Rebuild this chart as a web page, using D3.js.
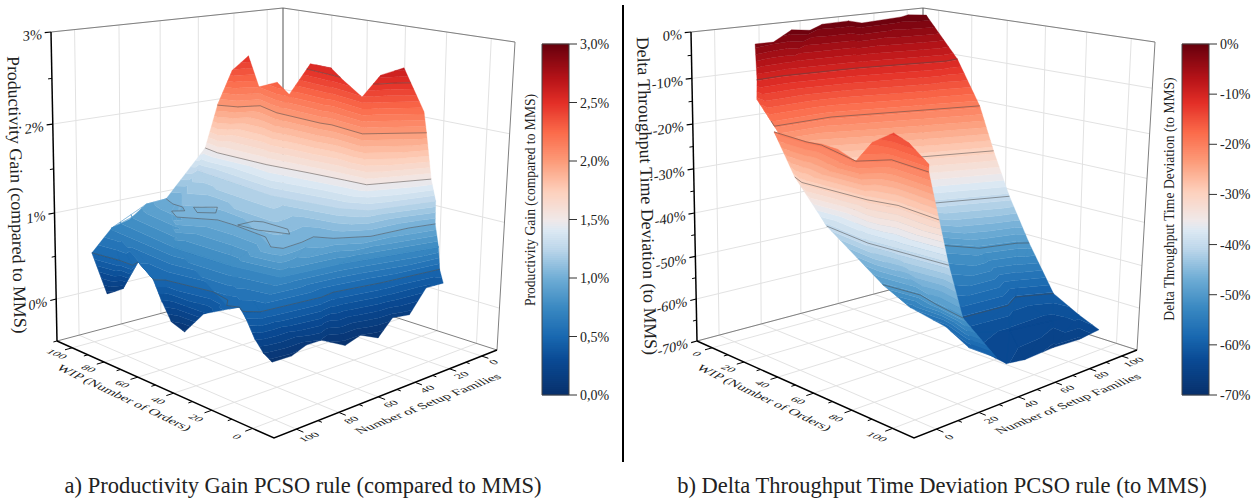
<!DOCTYPE html>
<html><head><meta charset="utf-8">
<script src="https://cdn.jsdelivr.net/npm/d3@7"></script>
<style>body{margin:0;background:#fff}svg{display:block}text{font-family:"Liberation Serif",serif;fill:#222}</style>
</head><body><script>
const wipTicks=[0,20,40,60,80,100], famTicks=[0,20,40,60,80,100];
const gainTicks=[0,1,2,3], gainMinor=[-.5,.5,1.5,2.5], gainBarTicks=[0,.5,1,1.5,2,2.5,3];
const delayTicks=[-70,-60,-50,-40,-30,-20,-10,0], delayMinor=[-65,-55,-45,-35,-25,-15,-5];
const gainContours=[.5,1,1.5,2,2.5], delayContours=[-60,-50,-40,-30,-20,-10];
const colorStops=[0,.1,.167,.25,.333,.417,.47,.5,.58,.667,.75,.833,.9,1];
const colorVals=["#08306b","#0a4a94","#1968b0","#3a89c2","#6fadd5","#bcd6ea","#dce8f3","#f0e8e8","#fdd0bb","#fc9a78","#fb6a4a","#e32f27","#b81419","#67000d"];

/* Panel a: productivity gain, rows of (WIP, families, gain %) read along the surface */
const a0Wip=[100,103,105,93,79,68,65,52,43,29,27,24,14];
const a0Fam=[38,27,16,21,24,26,19,21,24,29,21,11,11];
const a0Z=[2,2.37,2.5,2.19,2.31,2.18,2.56,2.57,2.48,2.37,2.59,2.65,2.21];
const a1Wip=[100,92,88,73,48,43,25,11];
const a1Fam=[38,34,25,30,31,30,33,13];
const a1Z=[2,2,2,2,2,2,2,2];
const a2Wip=[102,92,64,44,28,18,8];
const a2Fam=[43,45,44,41,39,38,13];
const a2Z=[1.5,1.5,1.5,1.5,1.5,1.5,1.5];
const a3Wip=[100,97,102,53,24,15,7];
const a3Fam=[65,59,47,52,46,40,11];
const a3Z=[1,1.07,1.25,1.25,1.25,1.25,1.25];
const a4Wip=[105,109,100,92,86,81,84,76,63,54,35,25,21,22,24,18,11,9,6];
const a4Fam=[79,68,65,68,68,71,75,79,70,70,72,79,77,67,59,55,43,24,12];
const a4Z=[.8,.9,1,1,1,1,1,1,1,1,1,1,1,1,1,1,1,1,1];
const a5Wip=[109,67,38,17,14,4];
const a5Fam=[85,87,86,82,56,12];
const a5Z=[.7,.75,.75,.75,.75,.75];
const a6Wip=[105,90,82,84,63,60,39,29,25,21,17,13,10,11,7,3];
const a6Fam=[97,95,95,91,100,97,93,95,99,97,99,95,69,62,42,12];
const a6Z=[.5,.5,.5,.5,.5,.5,.5,.5,.5,.5,.5,.5,.5,.5,.5,.5];
const a7Wip=[105,94,91,84,65,57,52,46,38,24,21,15,11,8,6,5,6,4,5,1,2,-1,1,-1,2,-2];
const a7Fam=[97,98,93,91,99,101,101,100,98,99,97,99,99,98,96,88,80,75,71,66,57,51,41,34,21,16];
const a7Z=[.5,.1,.15,.5,.5,.3,.12,.05,.3,.47,.5,.42,.25,.12,.03,.04,.09,.12,.07,.02,.06,.01,.15,.15,.35,.4];
const aIsland0Wip=[83,77,71,76,83], aIsland0Fam=[65,58,64,69,65];
const aIsland1Wip=[53,53,50,37,32,37,43,53], aIsland1Fam=[69,61,59,59,63,65,68,69];

/* Panel b: throughput time deviation, main sheet */
const m0Wip=[9,5,3,8,-2,-1,5,3,1,5];
const m0Fam=[5,16,26,31,45,58,60,84,90,97];
const m0Z=[-2,-2.5,-.5,-.5,-.5,-.3,-.5,-.3,-.2,-.3];
const m1Wip=[7,6,10,20,19], m1Fam=[7,19,53,94,102], m1Z=[-10,-10,-10,-10,-10];
const m2Wip=[1,12,12,25,33], m2Fam=[11,11,38,77,101], m2Z=[-15,-20,-20,-20,-20];
const m3Wip=[10,30,41], m3Fam=[24,70,101], m3Z=[-30,-30,-30];
const m4Wip=[24,38,50], m4Fam=[37,70,101], m4Z=[-40,-40,-40];
const m5Wip=[27,38,53,58,61], m5Fam=[45,70,80,97,101], m5Z=[-50,-50,-50,-50,-50];
const m6Wip=[72,74,69,76], m6Fam=[50,74,84,99], m6Z=[-60,-60,-60,-60];
const m7Wip=[79,84,86,93], m7Fam=[47,64,87,94], m7Z=[-62,-63,-63.5,-62];
const m8Wip=[85,97,103,102,98,99,106], m8Fam=[42,42,41,52,73,87,90], m8Z=[-63,-64,-64,-65,-66,-66,-63];
/* Panel b: low-family flank in front of the main sheet */
const l0Wip=[20,39,46,56,72,71,81,89,99], l0Fam=[5,4,6,5,-1,7,7,6,5], l0Z=[-20,-20,-20,-20,-20,-17,-14,-15,-18];
const l1Wip=[20,40,47,72,78,97], l1Fam=[5,4,5,-1,9,7], l1Z=[-20,-20,-20,-20,-20,-20];
const l2Wip=[24,32,65,77,98], l2Fam=[11,8,10,13,11], l2Z=[-30,-30,-30,-30,-30];
const l3Wip=[36,62,74,98], l3Fam=[16,13,14,16], l3Z=[-40,-40,-40,-40];
const l4Wip=[62,79,90,105], l4Fam=[20,22,19,16], l4Z=[-50,-50,-50,-50];
const l5Wip=[62,69,82,96,109], l5Fam=[20,27,32,29,29], l5Z=[-50,-55,-58,-59.8,-59.8];

const row=(w,f,z)=>w.map((v,i)=>({w:v,f:f[i],z:z[i]}));
const aRows=[row(a0Wip,a0Fam,a0Z),row(a1Wip,a1Fam,a1Z),row(a2Wip,a2Fam,a2Z),row(a3Wip,a3Fam,a3Z),row(a4Wip,a4Fam,a4Z),row(a5Wip,a5Fam,a5Z),row(a6Wip,a6Fam,a6Z),row(a7Wip,a7Fam,a7Z)];
const bMain=[row(m0Wip,m0Fam,m0Z),row(m1Wip,m1Fam,m1Z),row(m2Wip,m2Fam,m2Z),row(m3Wip,m3Fam,m3Z),row(m4Wip,m4Fam,m4Z),row(m5Wip,m5Fam,m5Z),row(m6Wip,m6Fam,m6Z),row(m7Wip,m7Fam,m7Z),row(m8Wip,m8Fam,m8Z)];
const bLeft=[row(l0Wip,l0Fam,l0Z),row(l1Wip,l1Fam,l1Z),row(l2Wip,l2Fam,l2Z),row(l3Wip,l3Fam,l3Z),row(l4Wip,l4Fam,l4Z),row(l5Wip,l5Fam,l5Z)];
const aLoops=[aIsland0Wip.map((w,i)=>({w,f:aIsland0Fam[i],z:1})),aIsland1Wip.map((w,i)=>({w,f:aIsland1Fam[i],z:1}))];

const cs=d3.scaleLinear().domain(colorStops).range(colorVals).interpolate(d3.interpolateRgb);
const svg=d3.select("body").append("svg").attr("width",1256).attr("height",501);

function homog(q){const [[x0,y0],[x1,y1],[x2,y2],[x3,y3]]=q;
 const dx1=x1-x2,dx2=x3-x2,sx=x0-x1+x2-x3,dy1=y1-y2,dy2=y3-y2,sy=y0-y1+y2-y3;
 const D=dx1*dy2-dx2*dy1,g=(sx*dy2-dx2*sy)/D,h=(dx1*sy-sx*dy1)/D;
 const a=x1-x0+g*x1,b=x3-x0+h*x3,d=y1-y0+g*y1,e=y3-y0+h*y3;
 return (s,t)=>{const m=g*s+h*t+1;return [(a*s+b*t+x0)/m,(d*s+e*t+y0)/m]}}

function panel(cfg){
 const g=svg.append("g");
 const dx=cfg.dx;
 const floor=homog([[57+dx,341],[274+dx,438],[497+dx,350],[283+dx,281]]);
 const top=homog([[51+dx,32],[281+dx,85],[515+dx,42],[283+dx,8]]);
 const sS=d3.scaleLinear().domain(cfg.rev?[110,-10]:[-10,110]).range([0,1]);
 const tS=d3.scaleLinear().domain(cfg.rev?[110,-10]:[-10,110]).range([0,1]);
 const zS=d3.scaleLinear().domain(cfg.zDom).range([0,1]);
 const k=.943;
 const prS=(s,t,zv)=>{const u=zS(zv),v=u*k/(1+u*(k-1));const a=floor(s,t),b=top(s,t);return [a[0]+(b[0]-a[0])*v,a[1]+(b[1]-a[1])*v]};
 const pr=(w,f,zv)=>prS(sS(w),tS(f),zv);
 const line=(pts,col,w)=>g.append("path").attr("d",d3.line()(pts)).attr("fill","none").attr("stroke",col).attr("stroke-width",w);
 const zT=cfg.zTicks, gc="#e2e2e2";
 const lo=-10,hi=110,z0=cfg.zDom[0],z1=cfg.zDom[1];
 const sEnd=cfg.rev?110:-10, tEnd=cfg.rev?-10:110, sFront=cfg.rev?-10:110, tFront=cfg.rev?110:-10;
 for(const v of wipTicks){line([pr(v,lo,z0),pr(v,hi,z0)],gc,1);line([pr(v,tEnd,z0),pr(v,tEnd,z1)],gc,1)}
 for(const v of famTicks){line([pr(lo,v,z0),pr(hi,v,z0)],gc,1);line([pr(sEnd,v,z0),pr(sEnd,v,z1)],gc,1)}
 for(const v of zT){line([pr(sEnd,tFront,v),pr(sEnd,tEnd,v)],gc,1);line([pr(sEnd,tEnd,v),pr(sFront,tEnd,v)],gc,1)}
 line([pr(sEnd,tFront,z1),pr(sEnd,tEnd,z1),pr(sFront,tEnd,z1),pr(sFront,tEnd,z0),pr(sEnd,tEnd,z0),pr(sEnd,tFront,z0)],"#808080",1);
 line([pr(sEnd,tEnd,z0),pr(sEnd,tEnd,z1)],"#555",1);
 line([pr(sEnd,tFront,z0),pr(sEnd,tFront,z1)],"#000",1.5);
 line([pr(sEnd,tFront,z0),pr(sFront,tFront,z0),pr(sFront,tEnd,z0)],"#000",1.5);
 const fDirOut=cfg.rev?1:-1, wDirOut=cfg.rev?-1:1;
 for(const v of d3.range(0,101,10)){const L=v%20==0?3.2:1.8;
   line([pr(v,tFront,z0),pr(v,tFront+fDirOut*L,z0)],"#000",1);
   line([pr(sFront,v,z0),pr(sFront+wDirOut*L,v,z0)],"#000",1)}
 wipTicks.forEach(v=>{const c=pr(v,tFront+fDirOut*8,z0);
   g.append("text").attr("text-anchor","middle").attr("font-size",12.5)
    .attr("transform",`matrix(.92,.38,-.68,.42,${c[0]},${c[1]+3})`).text(v)});
 famTicks.forEach(v=>{const c=pr(sFront+wDirOut*7,v,z0);
   g.append("text").attr("text-anchor","middle").attr("font-size",12.5)
    .attr("transform",`matrix(.92,-.38,.68,.42,${c[0]},${c[1]+3})`).text(v)});
 let c=[121+dx,400]; g.append("text").attr("text-anchor","middle").attr("font-size",14.5)
   .attr("transform",`matrix(.9,.43,-.66,.48,${c[0]},${c[1]})`).text("WIP (Number of Orders)");
 c=[431+dx,406]; g.append("text").attr("text-anchor","middle").attr("font-size",14.5)
   .attr("transform",`matrix(.93,-.37,.66,.48,${c[0]},${c[1]})`).text("Number of Setup Families");
 for(const v of cfg.zMinor){const p=pr(sEnd,tFront,v),q=pr(sEnd,tFront+fDirOut*1.6,v);line([p,q],"#000",1)}
 zT.forEach(v=>{const p=pr(sEnd,tFront,v),q=pr(sEnd,tFront+fDirOut*2.6,v);line([p,q],"#000",1.2);
   const r=pr(sEnd,tFront-fDirOut*10,v);let ax=r[0]-p[0],ay=r[1]-p[1];const n=Math.hypot(ax,ay);ax/=n;ay/=n;
   g.append("text").attr("text-anchor","end").attr("font-size",14.5)
    .attr("transform",`matrix(${ax},${ay},0,1,${p[0]-9},${p[1]+7})`).text(v+"%")});
 const levels=d3.range(cfg.cDom[0],cfg.cDom[1]+1e-6,(cfg.cDom[1]-cfg.cDom[0])/48);
 const cScale=d3.scaleLinear().domain(cfg.cDom).range([0,1]).clamp(true);
 const drawPatch=(rows)=>{
   const R=rows.map(r=>r.map(v=>({px:pr(v.w,v.f,v.z),z:v.z})));
   const tris=[];
   for(let n=0;n<R.length-1;n++){const U=R[n],L=R[n+1];let i=0,j=0;
     while(i<U.length-1||j<L.length-1){const nu=i<U.length-1?U[i+1].px[0]:1e9,nl=j<L.length-1?L[j+1].px[0]:1e9;
       if(nu<=nl){tris.push([U[i],U[i+1],L[j]]);i++}else{tris.push([U[i],L[j],L[j+1]]);j++}}}
   const clip=(poly,fn)=>{const out=[];poly.forEach((a,i)=>{const b=poly[(i+1)%poly.length],da=fn(a),db=fn(b);
      if(da>=0)out.push(a);if((da>=0)!=(db>=0)){const u=da/(da-db);out.push({px:[a.px[0]+(b.px[0]-a.px[0])*u,a.px[1]+(b.px[1]-a.px[1])*u],z:a.z+(b.z-a.z)*u})}});return out};
   const bands=[-Infinity,...levels,Infinity];
   for(let i=0;i<bands.length-1;i++){let d="";const a=bands[i],b=bands[i+1];
     for(const t of tris){let p=clip(t,v=>v.z-a);if(p.length<3)continue;p=clip(p,v=>b-v.z);if(p.length<3)continue;
       d+=d3.line()(p.map(v=>v.px))+"Z"}
     if(d){const zm=isFinite(a)&&isFinite(b)?(a+b)/2:(isFinite(a)?a:b);const col=cs(cScale(zm));
       g.append("path").attr("d",d).attr("fill",col).attr("stroke",col).attr("stroke-width",.35)}}
   for(const L of cfg.contours){let d="";for(const t of tris){const pts=[];for(let i=0;i<3;i++){const a=t[i],b=t[(i+1)%3];
        if((a.z>=L)!=(b.z>=L)){const u=(L-a.z)/(b.z-a.z);pts.push([a.px[0]+(b.px[0]-a.px[0])*u,a.px[1]+(b.px[1]-a.px[1])*u])}}
        if(pts.length==2)d+=d3.line()(pts)}
     g.append("path").attr("d",d).attr("fill","none").attr("stroke","#4a4a4a").attr("stroke-opacity",.75).attr("stroke-width",.7)}
 };
 cfg.patches.forEach(drawPatch);
 (cfg.loops||[]).forEach(l=>line(l.map(v=>pr(v.w,v.f,v.z)),"#4a4a4a",.7).attr("stroke-opacity",.75));
 g.append("text").attr("font-size",cfg.titleSize).attr("text-anchor","middle").attr("transform",`translate(${cfg.tx},${cfg.ty}) rotate(88.5)`).text(cfg.title);
 const by=d3.scaleLinear().domain(cfg.cDom).range([395,44]);
 const bx=cfg.barX,bw=27;
 d3.range(0,1,1/176).forEach(u=>{const v=cfg.cDom[0]+u*(cfg.cDom[1]-cfg.cDom[0]);
   g.append("rect").attr("x",bx).attr("width",bw).attr("y",by(v)-2.3).attr("height",2.6).attr("fill",cs(u+.003))});
 g.append("path").attr("d",`M${bx},44H${bx+bw}V395H${bx}Z`).attr("fill","none").attr("stroke","#444").attr("stroke-width",1);
 cfg.barTicks.forEach(v=>{line([[bx+bw,by(v)],[bx+bw+8,by(v)]],"#333",1);
   g.append("text").attr("x",bx+bw+11).attr("y",by(v)+5).attr("font-size",14).text(cfg.barFmt(v))});
 g.append("text").attr("font-size",cfg.barTitleSize).attr("text-anchor","middle").attr("transform",`translate(${cfg.btx},${cfg.bty}) rotate(-90)`).text(cfg.title);
 g.append("text").attr("x",cfg.capX).attr("y",493).attr("text-anchor","middle").attr("font-size",22.5).text(cfg.caption);
}
panel({dx:0,rev:true,zDom:[-.5,3],cDom:[0,3],zTicks:gainTicks,zMinor:gainMinor,contours:gainContours,patches:[aRows],loops:aLoops,
 title:"Productivity Gain (compared to MMS)",titleSize:17.8,tx:11,ty:195,barX:542,barTicks:gainBarTicks,barFmt:v=>d3.format(".1f")(v).replace(".",",")+"%",barTitleSize:13.6,btx:535,bty:200,capX:303,caption:"a) Productivity Gain PCSO rule (compared to MMS)"});
panel({dx:640,rev:false,zDom:[-70,0],cDom:[-70,0],zTicks:delayTicks,zMinor:delayMinor,contours:delayContours,patches:[bMain,bLeft],
 title:"Delta Throughput Time Deviation (to MMS)",titleSize:17.8,tx:641,ty:196,barX:1182,barTicks:delayTicks,barFmt:v=>v+"%",barTitleSize:13.6,btx:1174,bty:199,capX:942,caption:"b) Delta Throughput Time Deviation PCSO rule (to MMS)"});
svg.append("line").attr("x1",623).attr("x2",623).attr("y1",5).attr("y2",462).attr("stroke","#000").attr("stroke-width",2);
</script></body></html>
